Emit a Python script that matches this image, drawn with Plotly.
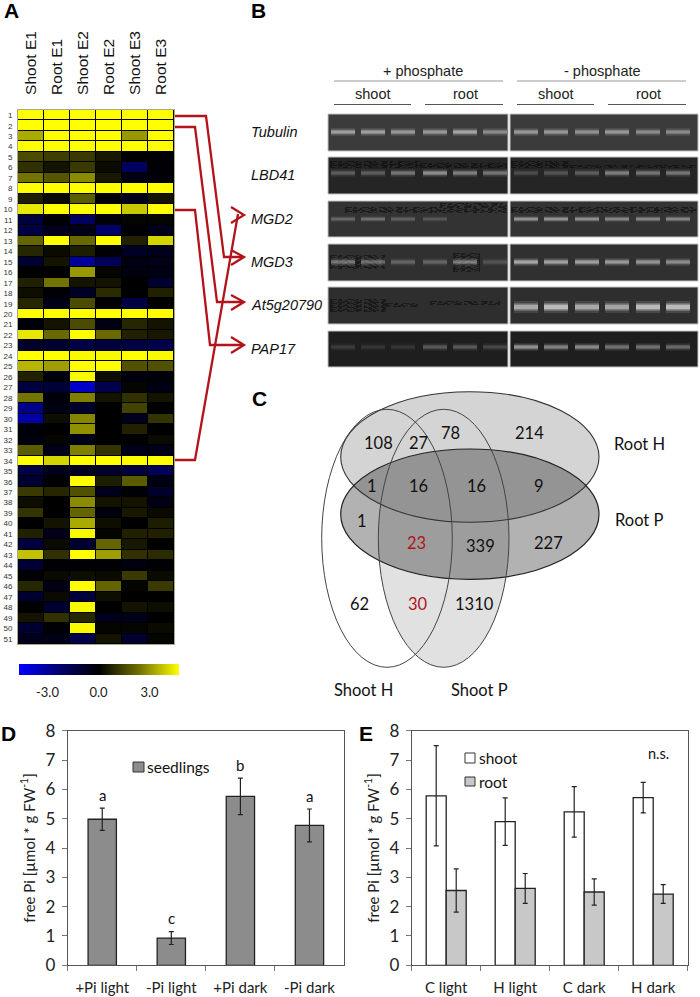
import plotly.graph_objects as go

W, H = 700, 997
def px(x): return x / W
def py(y): return 1 - y / H

# ---------- Panel A data ----------
conditions = ["Shoot E1", "Root E1", "Shoot E2", "Root E2", "Shoot E3", "Root E3"]
gene_ids = list(range(1, 52))
expr = [
 [4.7,4.7,4.7,4.7,4.7,4.7],[4.7,4.7,4.7,4.7,4.7,4.7],[3.3,4.7,4.7,4.7,3.0,4.7],[4.7,4.7,4.7,4.7,4.7,4.7],
 [1.6,1.3,1.2,.5,0,-.1],[1,.4,1.2,.2,-2,-.1],[2.4,1.8,2.8,.5,-.4,-.2],[4.7,4.7,4.7,4.7,4.7,4.7],
 [.6,.2,1.9,-.1,-.5,.4],[4.3,4.7,4.7,4.7,3.8,4.7],[-1.3,-.1,-2,-.2,.1,.1],[-1.4,-.6,-.5,-2.2,-.1,-.5],
 [2.1,4.7,2.2,4.7,.7,4],[.8,.2,.6,-.1,-.8,-.6],[-1,.4,-3,-1.8,-.4,-.5],[0,0,3,.1,-.3,-.4],
 [.7,2.4,.4,.4,0,-1],[.3,-.1,-.8,.9,0,.7],[.8,-.5,1.6,-.1,-1.4,0],[4.7,4.7,4.7,4.7,4.7,4.7],
 [-.2,.4,1.6,-.4,.8,.4],[4.3,2.2,4.7,2.2,.7,.5],[-.9,-1,-1.5,-1.3,-1.4,-1.6],[4.7,4.7,4.6,4.6,4.7,4.6],
 [3.5,3.1,4.7,4.7,1.7,1.7],[.7,-.3,4.6,.3,-.3,-.2],[-1.3,-1.2,-3.8,-1.6,.1,-.4],[2.4,-.2,2.6,.4,1,.4],
 [-2.8,-.4,-.9,0,1.4,0],[-3.2,.3,2.7,0,-.6,1.1],[-.2,0,2.9,0,.7,0],[-.3,.1,-.5,0,-.1,.2],
 [1.9,-.5,2.6,1.1,-.5,-.5],[4.7,4,4.7,4.7,4.7,4.7],[-1.4,-.6,-.7,-.9,-1.3,-1.8],[-1,-.1,4.7,.6,1.9,-.4],
 [1.2,.8,1.7,-.6,-.1,-.9],[.3,0,2.8,.4,.4,-.4],[1.1,0,2.1,-.3,.5,.2],[0,.4,3.3,.3,0,.6],
 [.7,-.5,4.6,.1,.7,.7],[-1.3,.2,-1,2.1,.5,0],[3.7,1,4.7,3.1,1,.9],[-1.1,-.1,-.1,-.1,-.3,-.1],
 [-.1,.2,.3,.2,1.2,.2],[.8,-.4,4.7,2.1,.1,1.2],[-1,.2,-1.3,.3,0,0],[0,-1,4.6,0,.4,.3],
 [.4,1,.8,-.6,-.5,0],[-1,-.1,4.6,.1,.1,.2],[-.6,-.5,-1.6,.4,-1,.1],
]
# ---------- Panel B data ----------
genes = ["Tubulin", "LBD41", "MGD2", "MGD3", "At5g20790", "PAP17"]
band_intensity = {
 "Tubulin":   [.65,.65,.6,.6,.7,.5, .6,.6,.55,.6,.5,.5],
 "LBD41":     [.3,.3,.45,.6,.5,.45, .2,.25,.3,.5,.45,.45],
 "MGD2":      [.3,.35,.25,.2,0,0, .6,.6,.55,.5,.5,.5],
 "MGD3":      [.45,.4,.3,.3,.5,.2, .75,.7,.7,.65,.6,.55],
 "At5g20790": [0,0,0,0,0,0, .8,.95,.8,.75,.95,.95],
 "PAP17":     [.15,.12,.12,.3,.3,.2, .65,.55,.6,.45,.45,.4],
}
# ---------- Panel C data ----------
venn_counts = ["108","27","78","214","1","16","16","9","1","23","339","227","62","30","1310"]
venn_sets = ["Root H", "Root P", "Shoot H", "Shoot P"]
# ---------- Panel D data ----------
d_cats = ["+Pi light", "-Pi light", "+Pi dark", "-Pi dark"]
d_vals = [4.98, 0.93, 5.76, 4.77]
d_errs = [0.38, 0.22, 0.62, 0.56]
d_letters = ["a", "c", "b", "a"]
d_letter_y = [5.8, 1.6, 6.83, 5.77]
# ---------- Panel E data ----------
e_cats = ["C light", "H light", "C dark", "H dark"]
e_shoot = [5.78, 4.9, 5.23, 5.72]
e_shoot_err = [1.71, 0.81, 0.86, 0.52]
e_root = [2.55, 2.62, 2.5, 2.43]
e_root_err = [0.74, 0.51, 0.45, 0.32]

SANS = "Liberation Sans, Arial, sans-serif"
LATO = "Lato, sans-serif"
RED = "#b3131b"

fig = go.Figure()
shapes, annots = [], []

def rect(x0, y0, x1, y1, fill, line=None, lw=1, layer="below"):
    shapes.append(dict(type="rect", xref="paper", yref="paper", x0=px(x0), x1=px(x1), y0=py(y0), y1=py(y1),
                       fillcolor=fill, line=dict(color=line or "rgba(0,0,0,0)", width=lw if line else 0), layer=layer))
def hline(x0, x1, y, color, lw=1):
    shapes.append(dict(type="line", xref="paper", yref="paper", x0=px(x0), x1=px(x1), y0=py(y), y1=py(y),
                       line=dict(color=color, width=lw)))
def text(x, y, s, size=14, font=SANS, color="#111", xanchor="center", angle=0, bold=False, italic=False):
    if bold: s = f"<b>{s}</b>"
    if italic: s = f"<i>{s}</i>"
    annots.append(dict(xref="paper", yref="paper", x=px(x), y=py(y), text=s, showarrow=False, xanchor=xanchor,
                       yanchor="middle", textangle=angle, font=dict(family=font, size=size, color=color),
                       borderpad=0, borderwidth=0))
def poly(points, color=RED, lw=2.3):
    d = "M" + " L".join(f"{px(x):.5f},{py(y):.5f}" for x, y in points)
    shapes.append(dict(type="path", xref="paper", yref="paper", path=d, line=dict(color=color, width=lw)))
def ellipse(x0, x1, y0, y1, fill=None, line=None, lw=1.2, layer="below"):
    shapes.append(dict(type="circle", xref="paper", yref="paper", x0=px(x0), x1=px(x1), y0=py(y0), y1=py(y1),
                       fillcolor=fill or "rgba(0,0,0,0)", line=dict(color=line or "rgba(0,0,0,0)", width=lw if line else 0),
                       layer=layer))

# Panel letters
for letter, x, y in [("A", 11, 11), ("B", 258, 10), ("C", 259, 398), ("D", 8, 733), ("E", 366, 733)]:
    text(x, y, letter, size=21, bold=True, color="#000")

# ---------- Panel A ----------
rect(18, 110, 174, 644, "#000000")
fig.add_trace(go.Heatmap(
    z=expr, x=conditions, y=gene_ids, xaxis="x", yaxis="y", zmin=-4.7, zmax=4.7, xgap=1, ygap=1,
    colorscale=[[0, "#0000ff"], [0.25, "#000070"], [0.5, "#000000"], [0.75, "#707000"], [1, "#ffff00"]],
    colorbar=dict(orientation="h", lenmode="pixels", len=160, thicknessmode="pixels", thickness=11,
                  x=px(18.5), xanchor="left", y=py(664), yanchor="top", xpad=0, ypad=0, outlinewidth=0,
                  tickvals=[-3, 0, 3], ticktext=["-3.0", "0.0", "3.0"], ticks="outside", ticklen=7,
                  tickcolor="rgba(0,0,0,0)", tickfont=dict(family=LATO, size=13, color="#222")),
    showscale=True, hoverongaps=False))

# red connectors
poly([(175,116),(206,116),(224,257),(243,257)])
poly([(231,250),(244,257),(231,265)])
poly([(175,127),(195,127),(217,302),(243,302)])
poly([(231,295),(244,302),(231,310)])
poly([(175,210),(195,210),(210,345),(243,345)])
poly([(231,337),(244,345),(231,353)])
poly([(175,460),(195,460),(238,214)])
poly([(231,207),(244,215),(231,223)])

# ---------- Panel B ----------
text(423, 71, "+ phosphate", size=14.5, color="#222")
text(602, 71, "- phosphate", size=14.5, color="#222")
hline(334, 503, 81, "#999999", 1.2); hline(517, 686, 81, "#999999", 1.2)
for cx, lab, x0, x1 in [(372,"shoot",334,411),(465,"root",425,503),(555,"shoot",517,594),(648,"root",608,686)]:
    text(cx, 94, lab, size=14.5, color="#222")
    hline(x0, x1, 104.5, "#555555", 1)

gel_top = [114, 157, 201, 244, 287, 331]
gel_bottom = [151, 194, 237, 281, 324, 367]
gel_bg = ["#3b3b3b", "#252525", "#333333", "#303030", "#2e2e2e", "#1e1e1e"]
band_y = [132, 173, 219, 262, 307, 347]
band_scale = [1, 1, 0.8, 1, 1.5, 1]
lanes = [343,373,403,435,465,495,526,556,587,617,648,678]
smudges = {
 "LBD41": [(330,161,420,168),(420,163,507,168),(511,161,570,168),(570,165,697,168)],
 "MGD2": [(345,207,507,213),(511,207,697,213),(440,203,507,207)],
 "MGD3": [(330,255,385,269),(453,253,480,272)],
 "At5g20790": [(330,299,386,312),(386,303,420,307),(430,301,500,305)],
}
dash_cycle = ["7px,2px,3px,5px", "2px,6px,4px,3px", "5px,3px,1px,4px", "3px,4px,8px,2px"]
for i, g in enumerate(genes):
    t, b = gel_top[i], gel_bottom[i]
    rect(328, t, 508, b, gel_bg[i], "#c4c4c4", 1)
    rect(510, t, 698, b, gel_bg[i], "#c4c4c4", 1)
    text(251, (t + b) / 2 - 0.5, g, size=14.5, xanchor="left", italic=True, color="#111")
    # speckled dark smudges of the gel
    for (x0, y0, x1, y1) in smudges.get(g, []):
        for k, yy in enumerate(range(y0, y1)):
            fig.add_trace(go.Scatter(x=[x0, x1], y=[yy + .5, yy + .5], mode="lines", xaxis="x4", yaxis="y4",
                                     hoverinfo="skip", showlegend=False,
                                     line=dict(color="rgba(6,6,6,0.5)", width=1, dash=dash_cycle[k % 4])))
    for j, lv in enumerate(band_intensity[g]):
        if lv <= 0:
            continue
        for w, a in [(8, .14), (5, .3), (3, .5)]:
            fig.add_trace(go.Scatter(x=[lanes[j]-12, lanes[j]+12], y=[band_y[i], band_y[i]], mode="lines",
                                     xaxis="x4", yaxis="y4", hoverinfo="skip", showlegend=False,
                                     line=dict(color=f"rgba(255,255,255,{a*lv:.3f})", width=w*band_scale[i])))

# ---------- Panel C ----------
ellipse(378.3, 509, 409.3, 667.3, fill="#e1e1e1")
ellipse(340.7, 599, 391.7, 522.3, fill="#d4d4d4")
ellipse(340.7, 599, 449, 579.3, fill="rgba(0,0,0,0.30)")
ellipse(340.7, 599, 391.7, 522.3, line="#333333", lw=1.1, layer="above")
ellipse(340.7, 599, 449, 579.3, line="#222222", lw=1.2, layer="above")
ellipse(321.7, 452.3, 409.3, 667.3, line="#444444", lw=1, layer="above")
ellipse(378.3, 509, 409.3, 667.3, line="#444444", lw=1, layer="above")
venn_pos = [(378,443),(418,443),(451,433),(529,433),(372,486),(418,486),(477,486),(539,486),(362,521),
            (416,543),(480,546),(548,543),(360,604),(418,604),(474,604)]
for s, (x, y), idx in zip(venn_counts, venn_pos, range(15)):
    text(x, y, s, size=16.5, font=LATO, color=RED if idx in (9, 13) else "#111")
for s, (x, y) in zip(venn_sets, [(639,444),(639,520),(363,690),(479,690)]):
    text(x, y, s, size=16.5, font=LATO, color="#111")

# ---------- Panel D ----------
fig.add_trace(go.Bar(x=d_cats, y=d_vals, xaxis="x2", yaxis="y2", width=0.41, name="seedlings",
                     marker=dict(color="#8c8c8c", line=dict(color="#222222", width=1.3)),
                     error_y=dict(type="data", array=d_errs, color="#222222", thickness=1.2, width=2.5),
                     showlegend=False))
for c, v, l in zip(d_cats, d_letter_y, d_letters):
    annots.append(dict(xref="x2", yref="y2", x=c, y=v, text=l, showarrow=False, yanchor="middle",
                       font=dict(family=LATO, size=15, color="#111")))
rect(133, 762, 144, 772, "#8c8c8c", "#333333", 1, layer="above")
text(147, 767, "seedlings", size=15.5, font=LATO, xanchor="left")

# ---------- Panel E ----------
fig.add_trace(go.Bar(x=e_cats, y=e_shoot, xaxis="x3", yaxis="y3", name="shoot",
                     marker=dict(color="#ffffff", line=dict(color="#222222", width=1.3)),
                     error_y=dict(type="data", array=e_shoot_err, color="#222222", thickness=1.2, width=2.5),
                     showlegend=False))
fig.add_trace(go.Bar(x=e_cats, y=e_root, xaxis="x3", yaxis="y3", name="root",
                     marker=dict(color="#c8c8c8", line=dict(color="#222222", width=1.3)),
                     error_y=dict(type="data", array=e_root_err, color="#222222", thickness=1.2, width=2.5),
                     showlegend=False))
rect(465, 753, 475, 763, "#ffffff", "#333333", 1, layer="above")
text(479, 758, "shoot", size=15.5, font=LATO, xanchor="left")
rect(465, 777, 475, 786, "#c8c8c8", "#333333", 1, layer="above")
text(479, 782, "root", size=15.5, font=LATO, xanchor="left")
text(658, 753, "n.s.", size=14.5, font=LATO)

def bar_yaxis(x0anchor):
    return dict(domain=[py(965.3), py(730.7)], range=[0, 8], dtick=1, anchor=x0anchor, ticks="outside", ticklen=5,
                tickcolor="#777777", linecolor="#555555", linewidth=1, mirror=True, showgrid=False, zeroline=False,
                tickfont=dict(family=LATO, size=17, color="#222"), ticklabelstandoff=3,
                title=dict(text="free Pi [µmol * g FW<sup>-1</sup>]", standoff=6,
                           font=dict(family=LATO, size=15, color="#222")))
def bar_xaxis(a, b, yanchor):
    return dict(domain=[px(a), px(b)], anchor=yanchor, type="category", tickson="boundaries", ticks="outside",
                ticklen=5, tickcolor="#777777", linecolor="#555555", linewidth=1, mirror=True, showgrid=False,
                zeroline=False, tickfont=dict(family=LATO, size=15, color="#222"), ticklabelstandoff=9)

fig.update_layout(
    width=W, height=H, margin=dict(l=0, r=0, t=0, b=0, autoexpand=False), paper_bgcolor="#ffffff",
    plot_bgcolor="rgba(0,0,0,0)",
    showlegend=False, bargap=0.42, bargroupgap=0, barmode="group", shapes=shapes, annotations=annots,
    xaxis=dict(domain=[px(18), px(174)], anchor="y", side="top", tickangle=-90, ticks="outside", ticklen=11,
               tickcolor="rgba(0,0,0,0)", linecolor="#a8a890", linewidth=1, mirror=True, showgrid=False, zeroline=False,
               tickfont=dict(family=SANS, size=15.5, color="#111")),
    yaxis=dict(domain=[py(644), py(110)], anchor="x", autorange="reversed", tickvals=gene_ids, ticks="",
               linecolor="#a8a890", linewidth=1, mirror=True, showgrid=False, zeroline=False, ticklabelstandoff=3,
               tickfont=dict(family=SANS, size=8, color="#333")),
    xaxis2=bar_xaxis(67.7, 344, "y2"), yaxis2=bar_yaxis("x2"),
    xaxis3=bar_xaxis(411.7, 687.7, "y3"), yaxis3=bar_yaxis("x3"),
    xaxis4=dict(domain=[0, 1], range=[0, W], anchor="y4", visible=False, fixedrange=True),
    yaxis4=dict(domain=[0, 1], range=[H, 0], anchor="x4", visible=False, fixedrange=True),
)
fig.write_html("out.html", config={"displayModeBar": False}, post_script="document.body.style.margin='0';")
